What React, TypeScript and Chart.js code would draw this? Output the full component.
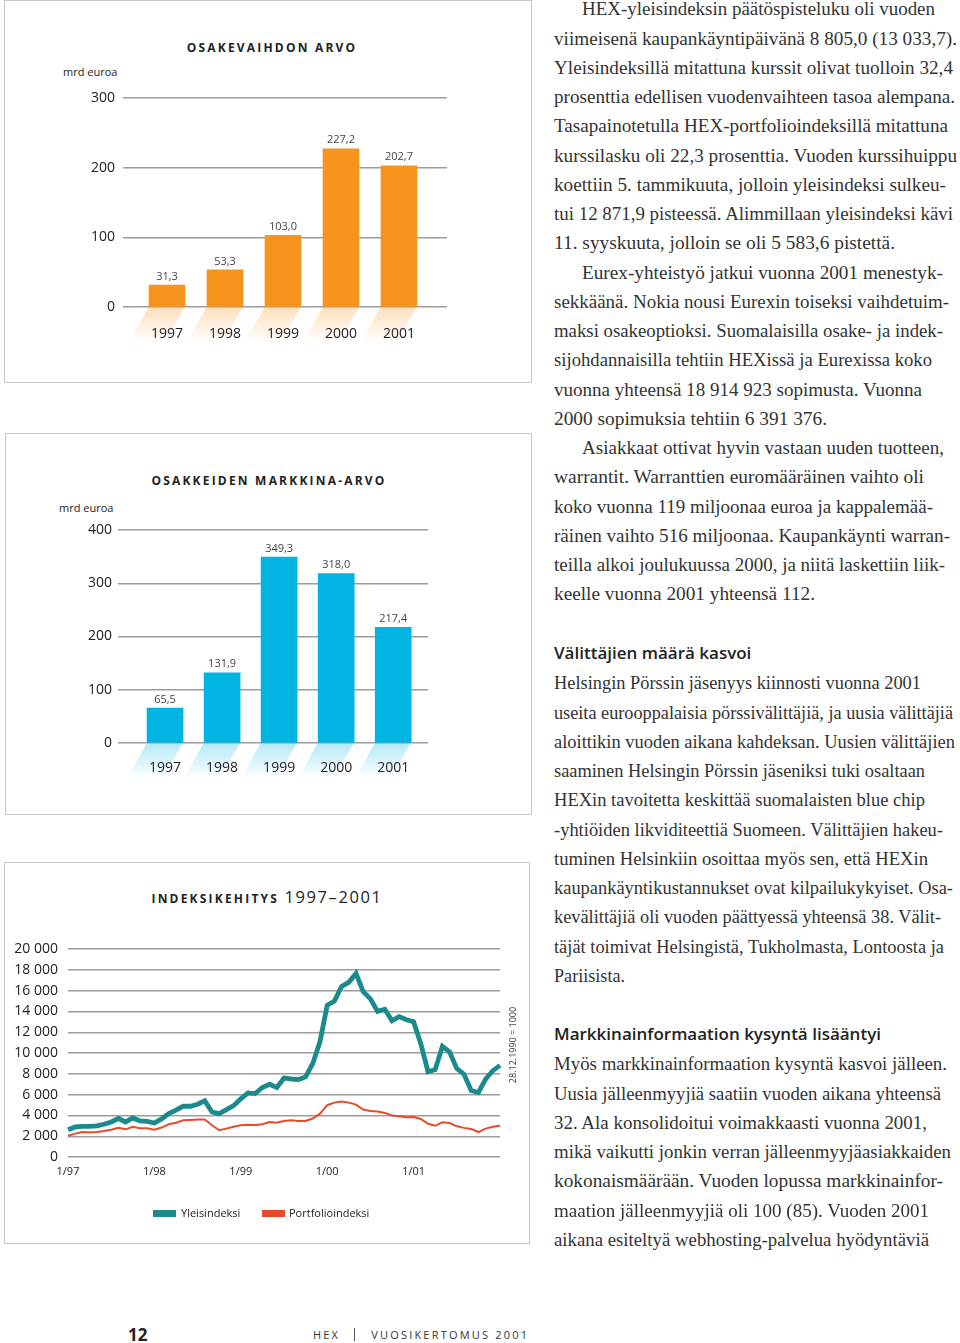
import React, { useEffect, useLayoutEffect, useRef } from "react";
import { Chart, registerables } from "chart.js";

Chart.register(...registerables);

// ---------- DATA ----------
const years = ["1997", "1998", "1999", "2000", "2001"];
const tradingValue = [31.3, 53.3, 103.0, 227.2, 202.7];
const marketValue = [65.5, 131.9, 349.3, 318.0, 217.4];
const tradingTicks = [0, 100, 200, 300];
const marketTicks = [0, 100, 200, 300, 400];

const indexTickLabels = ["1/97", "1/98", "1/99", "1/00", "1/01"];
const indexYTicks = [0, 2000, 4000, 6000, 8000, 10000, 12000, 14000, 16000, 18000, 20000];
const generalIndex = [
  2630, 2890, 2950, 2950, 3000, 3150, 3370, 3700, 3370, 3750, 3470, 3430,
  3270, 3660, 4170, 4500, 4880, 4880, 5070, 5400, 4330, 4170, 4560, 4940,
  5600, 6160, 6100, 6680, 7000, 6680, 7600, 7500, 7450, 7700, 9000, 11100,
  14600, 15000, 16400, 16800, 17650, 15900, 15200, 14000, 14200, 13100, 13500, 13200,
  13000, 10900, 8200, 8400, 10650, 10100, 8500, 7960, 6400, 6200, 7500, 8300,
  8805,
];
const portfolioIndex = [
  2050, 2250, 2400, 2350, 2400, 2500, 2630, 2800, 2660, 2900, 2760, 2760,
  2630, 2830, 3150, 3300, 3530, 3560, 3600, 3600, 3050, 2570, 2730, 2900,
  3050, 3100, 3080, 3150, 3370, 3300, 3470, 3530, 3470, 3470, 3700, 4170,
  4980, 5230, 5330, 5230, 5040, 4560, 4430, 4370, 4240, 4000, 3920, 3820,
  3850, 3660, 3200, 3000, 3340, 3270, 2950, 2800, 2700, 2400, 2730, 2900,
  3000,
];

// ---------- STYLE ----------
const SANS = "'Open Sans', 'DejaVu Sans', sans-serif";
const SERIF = "'Liberation Serif', 'DejaVu Serif', serif";
const GRID = "#9c9c9c";
const ORANGE = "#f7941e";
const BLUE = "#00b5e2";
const TEAL = "#1a8a8d";
const RED = "#e84a2b";

const fmtThousands = (v: number) =>
  String(v).replace(/\B(?=(\d{3})+(?!\d))/g, " ");

const valueLabelPlugin = {
  id: "valueLabels",
  afterDatasetsDraw(chart: any) {
    const ctx = chart.ctx;
    const meta = chart.getDatasetMeta(0);
    ctx.save();
    ctx.font = `11px ${SANS}`;
    ctx.fillStyle = "#444";
    ctx.textAlign = "center";
    ctx.textBaseline = "bottom";
    meta.data.forEach((bar: any, i: number) => {
      const v = chart.data.datasets[0].data[i].y as number;
      ctx.fillText(v.toFixed(1).replace(".", ","), bar.x, bar.y - 3);
    });
    ctx.restore();
  },
};

const reflectionPlugin = {
  id: "reflection",
  beforeDraw(chart: any, _args: any, opts: any) {
    const rgb = opts && opts.rgb;
    if (!rgb) return;
    const ctx = chart.ctx;
    const meta = chart.getDatasetMeta(0);
    ctx.save();
    meta.data.forEach((bar: any) => {
      const { x, width, base } = bar.getProps(["x", "width", "base"], true);
      const h = 36;
      const shift = 20;
      const g = ctx.createLinearGradient(0, base, 0, base + h);
      g.addColorStop(0, `rgba(${rgb},0.3)`);
      g.addColorStop(1, `rgba(${rgb},0)`);
      ctx.fillStyle = g;
      ctx.beginPath();
      ctx.moveTo(x - width / 2, base);
      ctx.lineTo(x + width / 2, base);
      ctx.lineTo(x + width / 2 - shift, base + h);
      ctx.lineTo(x - width / 2 - shift, base + h);
      ctx.closePath();
      ctx.fill();
    });
    ctx.restore();
  },
};

function ChartCanvas({ config, left, top, width, height }: any) {
  const ref = useRef<HTMLCanvasElement | null>(null);
  useEffect(() => {
    if (!ref.current) return;
    const c = new Chart(ref.current, config);
    return () => c.destroy();
  }, []);
  return (
    <div style={{ position: "absolute", left, top, width, height }}>
      <canvas ref={ref} width={width} height={height} style={{ width, height, display: "block" }} />
    </div>
  );
}

function barConfig(p: {
  values: number[];
  ticks: number[];
  color: string;
  rgb: string;
  xMin: number;
  xMax: number;
  padTop: number;
  padRight: number;
  yWidth: number;
  xHeight: number;
  yPad: number;
  xPad: number;
}) {
  return {
    type: "bar",
    data: {
      datasets: [
        {
          data: p.values.map((v, i) => ({ x: i, y: v })),
          backgroundColor: p.color,
          barThickness: 36,
          borderWidth: 0,
        },
      ],
    },
    options: {
      responsive: false,
      animation: false,
      layout: { padding: { top: p.padTop, right: p.padRight, left: 0, bottom: 0 } },
      plugins: {
        legend: { display: false },
        title: { display: false },
        tooltip: { enabled: false },
        reflection: { rgb: p.rgb },
      },
      scales: {
        x: {
          type: "linear",
          offset: false,
          min: p.xMin,
          max: p.xMax,
          grid: { display: false, drawTicks: false, offset: false },
          border: { display: false },
          afterBuildTicks: (s: any) => {
            s.ticks = years.map((_, i) => ({ value: i }));
          },
          afterFit: (s: any) => {
            s.height = p.xHeight;
          },
          ticks: {
            callback: (v: any) => years[Math.round(Number(v))],
            font: { family: SANS, size: 14 },
            color: "#222",
            padding: p.xPad,
            maxRotation: 0,
            autoSkip: false,
          },
        },
        y: {
          min: 0,
          max: p.ticks[p.ticks.length - 1],
          grid: { color: GRID, lineWidth: 1.4, drawTicks: false },
          border: { display: false },
          afterBuildTicks: (s: any) => {
            s.ticks = p.ticks.map((v) => ({ value: v }));
          },
          afterFit: (s: any) => {
            s.width = p.yWidth;
          },
          ticks: {
            font: { family: SANS, size: 14 },
            color: "#222",
            padding: p.yPad,
          },
        },
      },
    },
    plugins: [valueLabelPlugin, reflectionPlugin],
  };
}

const chart1 = barConfig({
  values: tradingValue,
  ticks: tradingTicks,
  color: ORANGE,
  rgb: "247,148,30",
  xMin: -0.759,
  xMax: 4.828,
  padTop: 97,
  padRight: 84,
  yWidth: 119,
  xHeight: 75,
  yPad: 8,
  xPad: 19,
});

const chart2 = barConfig({
  values: marketValue,
  ticks: marketTicks,
  color: BLUE,
  rgb: "0,181,226",
  xMin: -0.825,
  xMax: 4.61,
  padTop: 96,
  padRight: 103,
  yWidth: 113,
  xHeight: 71,
  yPad: 6,
  xPad: 17,
});

const lineConfig = {
  type: "line",
  data: {
    labels: generalIndex.map((_, i) => String(i)),
    datasets: [
      {
        label: "Yleisindeksi",
        data: generalIndex,
        borderColor: TEAL,
        borderWidth: 4.8,
        pointRadius: 0,
        tension: 0,
        borderJoinStyle: "miter",
        fill: false,
      },
      {
        label: "Portfolioindeksi",
        data: portfolioIndex,
        borderColor: RED,
        borderWidth: 2,
        pointRadius: 0,
        tension: 0,
        fill: false,
      },
    ],
  },
  options: {
    responsive: false,
    animation: false,
    layout: { padding: { top: 87, right: 29, left: 0, bottom: 0 } },
    plugins: {
      legend: { display: false },
      title: { display: false },
      tooltip: { enabled: false },
    },
    scales: {
      x: {
        type: "category",
        offset: false,
        grid: { display: false, drawTicks: false },
        border: { display: false },
        afterFit: (s: any) => {
          s.height = 86;
        },
        ticks: {
          autoSkip: false,
          maxRotation: 0,
          font: { family: SANS, size: 11 },
          color: "#222",
          padding: 8,
          callback: (_v: any, i: number) => (i % 12 === 0 ? indexTickLabels[i / 12] || "" : ""),
        },
      },
      y: {
        min: 0,
        max: 20000,
        grid: { color: GRID, lineWidth: 1.4, drawTicks: false },
        border: { display: false },
        afterBuildTicks: (s: any) => {
          s.ticks = indexYTicks.map((v) => ({ value: v }));
        },
        afterFit: (s: any) => {
          s.width = 64;
        },
        ticks: {
          font: { family: SANS, size: 14 },
          color: "#222",
          padding: 10,
          callback: (v: any) => fmtThousands(Number(v)),
        },
      },
    },
  },
};

// ---------- TEXT ----------
const para1 = [
  "HEX-yleisindeksin päätöspisteluku oli vuoden",
  "viimeisenä kaupankäyntipäivänä 8 805,0 (13 033,7).",
  "Yleisindeksillä mitattuna kurssit olivat tuolloin 32,4",
  "prosenttia edellisen vuodenvaihteen tasoa alempana.",
  "Tasapainotetulla HEX-portfolioindeksillä mitattuna",
  "kurssilasku oli 22,3 prosenttia. Vuoden kurssihuippu",
  "koettiin 5. tammikuuta, jolloin yleisindeksi sulkeu-",
  "tui 12 871,9 pisteessä. Alimmillaan yleisindeksi kävi",
  "11. syyskuuta, jolloin se oli 5 583,6 pistettä.",
  "Eurex-yhteistyö jatkui vuonna 2001 menestyk-",
  "sekkäänä. Nokia nousi Eurexin toiseksi vaihdetuim-",
  "maksi osakeoptioksi. Suomalaisilla osake- ja indek-",
  "sijohdannaisilla tehtiin HEXissä ja Eurexissa koko",
  "vuonna yhteensä 18 914 923 sopimusta. Vuonna",
  "2000 sopimuksia tehtiin 6 391 376.",
  "Asiakkaat ottivat hyvin vastaan uuden tuotteen,",
  "warrantit. Warranttien euromääräinen vaihto oli",
  "koko vuonna 119 miljoonaa euroa ja kappalemää-",
  "räinen vaihto 516 miljoonaa. Kaupankäynti warran-",
  "teilla alkoi joulukuussa 2000, ja niitä laskettiin liik-",
  "keelle vuonna 2001 yhteensä 112.",
];
const para1Indented = [0, 9, 15];
const para1Ends = [935, 957, 953, 955, 948, 957, 946, 953, 895, 943, 949, 943, 932, 922, 827, 944, 924, 933, 950, 945, 815];

const para2 = [
  "Helsingin Pörssin jäsenyys kiinnosti vuonna 2001",
  "useita eurooppalaisia pörssivälittäjiä, ja uusia välittäjiä",
  "aloittikin vuoden aikana kahdeksan. Uusien välittäjien",
  "saaminen Helsingin Pörssin jäseniksi tuki osaltaan",
  "HEXin tavoitetta keskittää suomalaisten blue chip",
  "-yhtiöiden likviditeettiä Suomeen. Välittäjien hakeu-",
  "tuminen Helsinkiin osoittaa myös sen, että HEXin",
  "kaupankäyntikustannukset ovat kilpailukykyiset. Osa-",
  "kevälittäjiä oli vuoden päättyessä yhteensä 38. Välit-",
  "täjät toimivat Helsingistä, Tukholmasta, Lontoosta ja",
  "Pariisista.",
];
const para2Ends = [921, 953, 955, 925, 925, 943, 928, 953, 941, 944, 625];

const para3 = [
  "Myös markkinainformaation kysyntä kasvoi jälleen.",
  "Uusia jälleenmyyjiä saatiin vuoden aikana yhteensä",
  "32. Ala konsolidoitui voimakkaasti vuonna 2001,",
  "mikä vaikutti jonkin verran jälleenmyyjäasiakkaiden",
  "kokonaismäärään. Vuoden lopussa markkinainfor-",
  "maation jälleenmyyjiä oli 100 (85). Vuoden 2001",
  "aikana esiteltyä webhosting-palvelua hyödyntäviä",
];
const para3Ends = [947, 941, 927, 951, 943, 929, 929];

const LH = 29.25;

function FitLine({ text, left, right, cy }: { text: string; left: number; right: number; cy: number }) {
  const ref = useRef<HTMLDivElement | null>(null);
  useLayoutEffect(() => {
    const el = ref.current;
    if (!el) return;
    el.style.transform = "none";
    const w = el.getBoundingClientRect().width;
    if (w > 0) el.style.transform = `scaleX(${(right - left) / w})`;
  }, [text, left, right]);
  return (
    <div
      ref={ref}
      style={{
        position: "absolute",
        left,
        top: cy - LH / 2,
        height: LH,
        lineHeight: LH + "px",
        fontFamily: SERIF,
        fontSize: 19,
        color: "#333",
        whiteSpace: "nowrap",
        transformOrigin: "0 50%",
      }}
    >
      {text}
    </div>
  );
}

function Lines({ lines, ends, indented, centerY }: { lines: string[]; ends: number[]; indented?: number[]; centerY: number }) {
  return (
    <>
      {lines.map((t, k) => (
        <FitLine
          key={k}
          text={t}
          left={indented && indented.includes(k) ? 582 : 554}
          right={ends[k]}
          cy={centerY + k * LH}
        />
      ))}
    </>
  );
}

const boxStyle = (left: number, top: number, w: number, h: number): React.CSSProperties => ({
  position: "absolute",
  left,
  top,
  width: w,
  height: h,
  border: "1.5px solid #c8c8c8",
  boxSizing: "border-box",
});

const titleStyle = (cx: number, cy: number): React.CSSProperties => ({
  position: "absolute",
  left: cx - 200,
  width: 400,
  top: cy - 10,
  height: 20,
  lineHeight: "20px",
  textAlign: "center",
  fontFamily: SANS,
  fontWeight: 700,
  fontSize: 12,
  letterSpacing: 2.2,
  color: "#222",
  whiteSpace: "nowrap",
});

const smallLabel = (left: number, cy: number): React.CSSProperties => ({
  position: "absolute",
  left,
  top: cy - 8,
  height: 16,
  lineHeight: "16px",
  fontFamily: SANS,
  fontSize: 11,
  color: "#222",
  whiteSpace: "nowrap",
});

const headingStyle = (cy: number): React.CSSProperties => ({
  position: "absolute",
  left: 554,
  top: cy - 12,
  height: 24,
  lineHeight: "24px",
  fontFamily: SANS,
  fontWeight: 600,
  fontSize: 17,
  color: "#222",
  whiteSpace: "nowrap",
});

export default function App() {
  return (
    <div
      style={{
        position: "absolute",
        left: 0,
        top: 0,
        width: 960,
        height: 1343,
        overflow: "hidden",
        background: "#fff",
      }}
    >
      {/* Box 1 */}
      <div style={boxStyle(4, 0, 528, 383)} />
      <div style={titleStyle(272, 48)}>OSAKEVAIHDON ARVO</div>
      <div style={smallLabel(63, 72)}>mrd euroa</div>
      <ChartCanvas config={chart1} left={4} top={1} width={527} height={381} />

      {/* Box 2 */}
      <div style={boxStyle(5, 433, 527, 382)} />
      <div style={titleStyle(269, 481)}>OSAKKEIDEN MARKKINA-ARVO</div>
      <div style={smallLabel(59, 508)}>mrd euroa</div>
      <ChartCanvas config={chart2} left={5} top={434} width={526} height={380} />

      {/* Box 3 */}
      <div style={boxStyle(4, 862, 526, 382)} />
      <div style={{ ...titleStyle(267, 897) }}>
        INDEKSIKEHITYS{" "}
        <span style={{ fontSize: 16.5, fontWeight: 400, letterSpacing: 1.6 }}>1997–2001</span>
      </div>
      <ChartCanvas config={lineConfig} left={4} top={862} width={525} height={381} />
      <div
        style={{
          position: "absolute",
          left: 513 - 50,
          top: 1045 - 6,
          width: 100,
          height: 12,
          lineHeight: "12px",
          textAlign: "center",
          fontFamily: SANS,
          fontSize: 9,
          color: "#333",
          transform: "rotate(-90deg)",
          whiteSpace: "nowrap",
        }}
      >
        28.12.1990 = 1000
      </div>
      <div style={{ position: "absolute", left: 153, top: 1210, width: 23, height: 7, background: TEAL }} />
      <div style={smallLabel(181, 1213)}>Yleisindeksi</div>
      <div style={{ position: "absolute", left: 262, top: 1210, width: 23, height: 7, background: RED }} />
      <div style={smallLabel(289, 1213)}>Portfolioindeksi</div>

      {/* Right column text */}
      <Lines lines={para1} ends={para1Ends} indented={para1Indented} centerY={9} />
      <div style={headingStyle(653)}>Välittäjien määrä kasvoi</div>
      <Lines lines={para2} ends={para2Ends} centerY={683} />
      <div style={headingStyle(1034)}>Markkinainformaation kysyntä lisääntyi</div>
      <Lines lines={para3} ends={para3Ends} centerY={1064} />

      {/* Footer */}
      <div
        style={{
          position: "absolute",
          left: 128,
          top: 1324,
          height: 22,
          lineHeight: "22px",
          fontFamily: SANS,
          fontWeight: 700,
          fontSize: 17,
          color: "#222",
        }}
      >
        12
      </div>
      <div
        style={{
          position: "absolute",
          left: 313,
          top: 1327,
          height: 16,
          lineHeight: "16px",
          fontFamily: SANS,
          fontSize: 11,
          letterSpacing: 2.2,
          color: "#333",
          whiteSpace: "nowrap",
        }}
      >
        HEX
        <span style={{ display: "inline-block", width: 1, height: 13, background: "#555", margin: "0 16px 0 14px", verticalAlign: "-2px" }} />
        VUOSIKERTOMUS 2001
      </div>
    </div>
  );
}
